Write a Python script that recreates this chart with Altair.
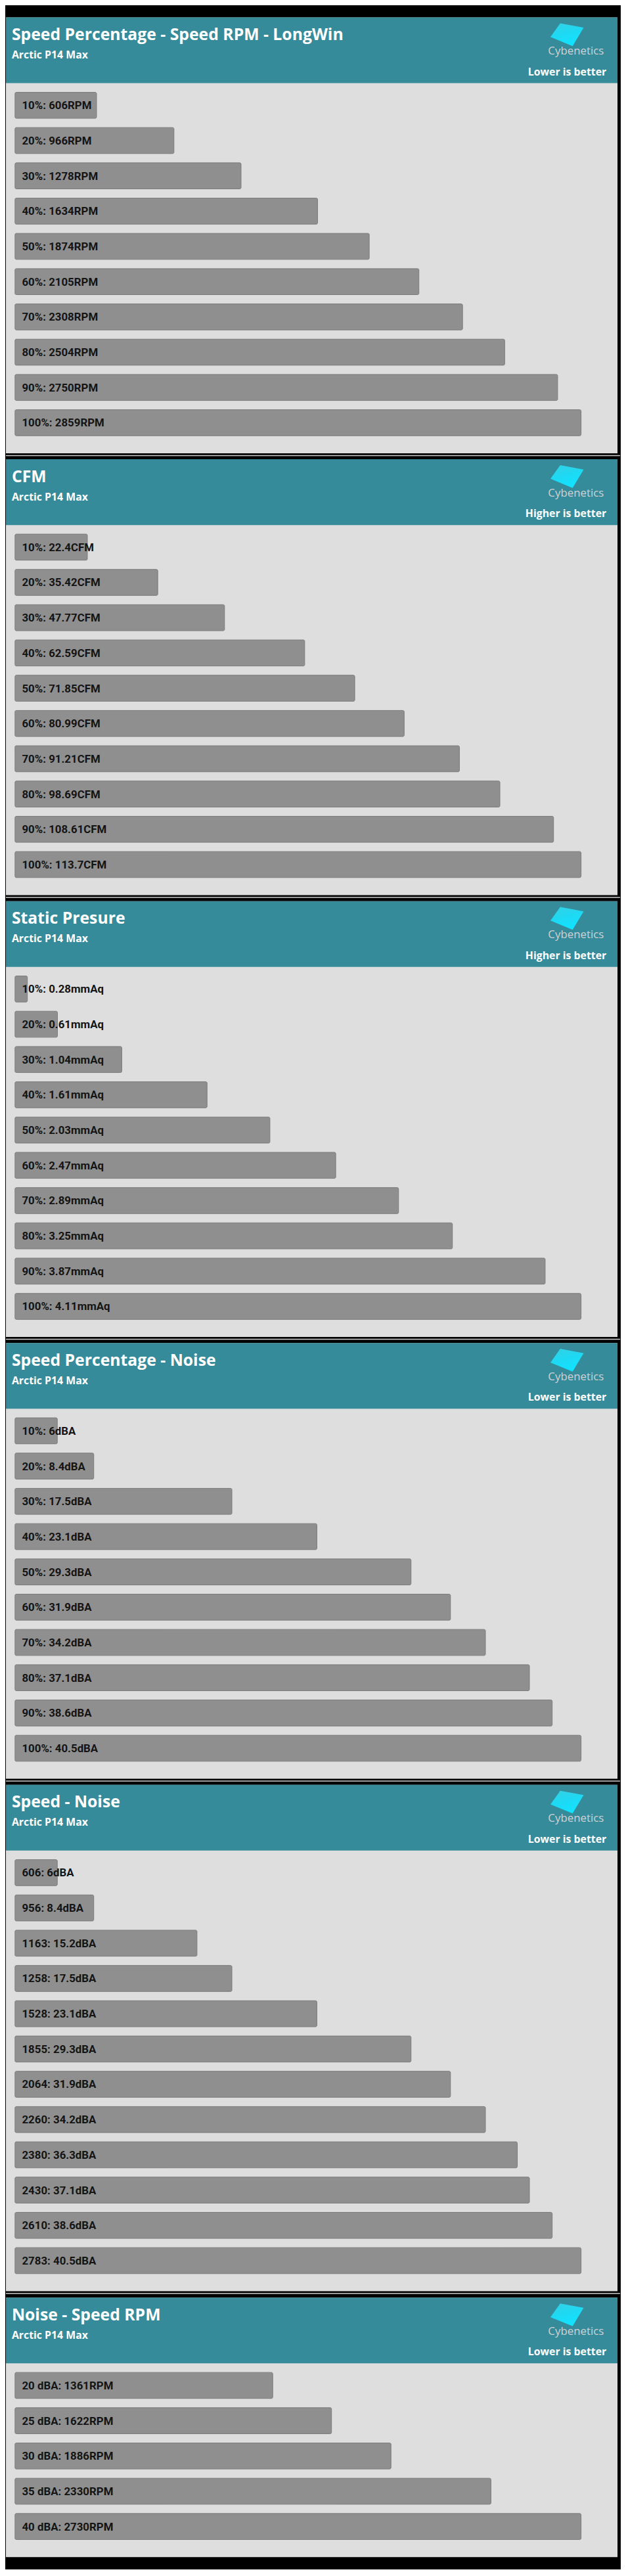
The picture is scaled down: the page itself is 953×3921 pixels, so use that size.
import urllib.parse
import altair as alt
import pandas as pd

# ---------------- data ----------------
pct_cats = ["10%", "20%", "30%", "40%", "50%", "60%", "70%", "80%", "90%", "100%"]

rpm_vals = [606, 966, 1278, 1634, 1874, 2105, 2308, 2504, 2750, 2859]
cfm_vals = [22.4, 35.42, 47.77, 62.59, 71.85, 80.99, 91.21, 98.69, 108.61, 113.7]
sp_vals = [0.28, 0.61, 1.04, 1.61, 2.03, 2.47, 2.89, 3.25, 3.87, 4.11]
noise_vals = [6, 8.4, 17.5, 23.1, 29.3, 31.9, 34.2, 37.1, 38.6, 40.5]

speed_cats = ["606", "956", "1163", "1258", "1528", "1855", "2064", "2260",
              "2380", "2430", "2610", "2783"]
speed_noise_vals = [6, 8.4, 15.2, 17.5, 23.1, 29.3, 31.9, 34.2, 36.3, 37.1, 38.6, 40.5]

noise_cats = ["20 dBA", "25 dBA", "30 dBA", "35 dBA", "40 dBA"]
noise_rpm_vals = [1361, 1622, 1886, 2330, 2730]

subtitle = "Arctic P14 Max"

panels = [
    ("Speed Percentage - Speed RPM - LongWin", "Lower is better", pct_cats, rpm_vals, "RPM"),
    ("CFM", "Higher is better", pct_cats, cfm_vals, "CFM"),
    ("Static Presure", "Higher is better", pct_cats, sp_vals, "mmAq"),
    ("Speed Percentage - Noise", "Lower is better", pct_cats, noise_vals, "dBA"),
    ("Speed - Noise", "Lower is better", speed_cats, speed_noise_vals, "dBA"),
    ("Noise - Speed RPM", "Lower is better", noise_cats, noise_rpm_vals, "RPM"),
]

# ---------------- style ----------------
PW = 940          # panel width
CW = 944          # chart width (black margin on the right)
HEADER_H = 101
TEAL = "#358b9a"
BODY = "#dedede"
BAR_FILL = "#8f8f8f"
BAR_STROKE = "#7a7a7a"
TOP = 115
STEP = 54.2
BAND = 40
BOTTOM_PAD = 27
RANGE_LO, RANGE_HI = -61, 884
BAR_START = 14
GAP = 9

LOGO_SVG = (
    "<svg xmlns='http://www.w3.org/2000/svg' width='54' height='38' viewBox='0 0 54 38'>"
    "<defs><linearGradient id='g' x1='0' y1='0' x2='0.4' y2='1'>"
    "<stop offset='0' stop-color='#36d0e2'/>"
    "<stop offset='0.5' stop-color='#1fd8f2'/>"
    "<stop offset='1' stop-color='#12e2ff'/>"
    "</linearGradient></defs>"
    "<polygon points='16,1 52,7.7 35,36 1,22' fill='url(#g)'/></svg>"
)
LOGO_URL = "data:image/svg+xml;charset=utf-8," + urllib.parse.quote(LOGO_SVG)


def one(label):
    return alt.Chart(pd.DataFrame({"t": [label]}))


def panel(title, better, cats, vals, unit, last):
    n = len(cats)
    ph = TOP + (n - 1) * STEP + BAND + BOTTOM_PAD
    total_h = ph if last else ph + GAP
    vmax = max(vals)
    span = RANGE_HI - RANGE_LO
    base = vmax * (BAR_START - RANGE_LO) / span
    minw = vmax * 19 / span

    df = pd.DataFrame({
        "cat": cats,
        "val": vals,
        "label": [f"{c}: {v}{unit}" for c, v in zip(cats, vals)],
    })

    xscale = alt.Scale(domain=[0, vmax], range=[RANGE_LO, RANGE_HI])
    yscale = alt.Scale(range=[TOP, TOP + (n - 1) * STEP + BAND],
                       paddingInner=(STEP - BAND) / STEP, paddingOuter=0)

    body = one("b").mark_rect(color=BODY).encode(
        x=alt.value(0), x2=alt.value(PW), y=alt.value(0), y2=alt.value(ph)
    )
    header = one("h").mark_rect(color=TEAL).encode(
        x=alt.value(0), x2=alt.value(PW), y=alt.value(0), y2=alt.value(HEADER_H)
    )
    t_title = one(title).mark_text(
        align="left", baseline="alphabetic", font="Open Sans", fontWeight="bold",
        fontSize=25, color="white"
    ).encode(x=alt.value(9), y=alt.value(35), text="t:N")
    t_sub = one(subtitle).mark_text(
        align="left", baseline="alphabetic", font="Open Sans", fontWeight="bold",
        fontSize=16, color="white"
    ).encode(x=alt.value(9), y=alt.value(63), text="t:N")
    t_better = one(better).mark_text(
        align="right", baseline="alphabetic", font="Open Sans", fontWeight="bold",
        fontSize=16, color="white"
    ).encode(x=alt.value(923), y=alt.value(89), text="t:N")
    t_logo = one("Cybenetics").mark_text(
        align="right", baseline="alphabetic", font="Open Sans", fontWeight="normal",
        fontSize=17, color="#d2d2d2"
    ).encode(x=alt.value(919), y=alt.value(57), text="t:N")
    logo = one(LOGO_URL).mark_image(
        width=54, height=38, align="left", baseline="top", aspect=False
    ).encode(x=alt.value(836), y=alt.value(8), url="t:N")

    bars = alt.Chart(df).transform_calculate(
        xend=f"max(datum.val, {base + minw})"
    ).mark_bar(fill=BAR_FILL, stroke=BAR_STROKE, strokeWidth=1, cornerRadius=2).encode(
        x=alt.X("xend:Q", scale=xscale, axis=None),
        x2=alt.datum(base),
        y=alt.Y("cat:N", sort=None, scale=yscale, axis=None),
    )
    labels = alt.Chart(df).transform_calculate(b=f"{base}").mark_text(
        align="left", baseline="middle", dx=10.7, dy=1, font="Roboto",
        fontWeight="bold", fontSize=17, color="#141414"
    ).encode(
        x=alt.X("b:Q", scale=xscale, axis=None),
        y=alt.Y("cat:N", sort=None, scale=yscale, axis=None),
        text="label:N",
    )

    layers = [body, header, t_title, t_sub, t_better, t_logo, logo, bars, labels]
    if not last:
        sep = one("sep").mark_rule(color="#cfcfcf", strokeWidth=1.5).encode(
            x=alt.value(0), x2=alt.value(CW), y=alt.value(ph + 3.5)
        )
        layers.append(sep)

    return alt.layer(*layers).properties(width=CW, height=total_h)


chart = alt.vconcat(
    *[panel(*p, last=(i == len(panels) - 1)) for i, p in enumerate(panels)],
    spacing=0,
).properties(
    background="#000000", padding=0
).configure_view(
    stroke=None
).configure_concat(spacing=0)

chart.save("out.html", embed_options={"renderer": "svg", "actions": False})
